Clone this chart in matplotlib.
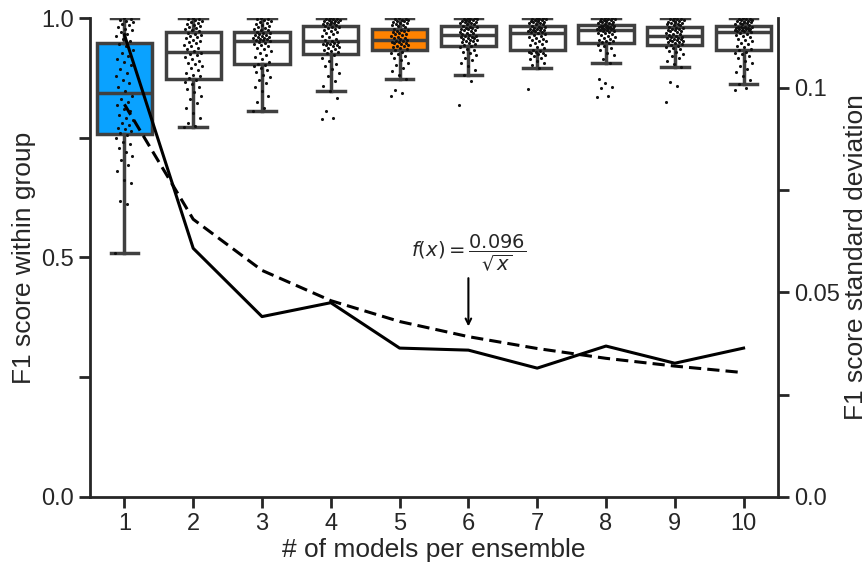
import numpy as np
import matplotlib
matplotlib.use("Agg")
import matplotlib.pyplot as plt
from matplotlib.ticker import FixedLocator

plt.rcParams['font.family'] = ['Liberation Sans', 'DejaVu Sans']
plt.rcParams['mathtext.fontset'] = 'dejavusans'

# ensemble sizes
n_models = [1, 2, 3, 4, 5, 6, 7, 8, 9, 10]

# F1 scores within each group
f1_n1 = [0.509, 0.612, 0.618, 0.655, 0.662, 0.681, 0.694, 0.703, 0.712, 0.721, 0.729, 0.736, 0.742, 0.749, 0.755,
         0.759, 0.764, 0.768, 0.771, 0.776, 0.781, 0.787, 0.792, 0.798, 0.805, 0.811, 0.818, 0.824, 0.831, 0.838,
         0.848, 0.856, 0.864, 0.871, 0.879, 0.886, 0.893, 0.901, 0.908, 0.914, 0.921, 0.927, 0.934, 0.941, 0.946,
         0.953, 0.957, 0.962, 0.966, 0.971, 0.975, 0.978, 0.982, 0.985, 0.988, 0.991, 0.994, 0.996, 0.998, 1.0]
f1_n2 = [0.772, 0.775, 0.781, 0.792, 0.801, 0.812, 0.823, 0.831, 0.838, 0.845, 0.851, 0.857, 0.862, 0.866, 0.871,
         0.874, 0.878, 0.882, 0.886, 0.891, 0.895, 0.899, 0.903, 0.907, 0.911, 0.915, 0.919, 0.922, 0.925, 0.928,
         0.932, 0.935, 0.938, 0.941, 0.944, 0.947, 0.950, 0.953, 0.955, 0.958, 0.960, 0.962, 0.965, 0.967, 0.969,
         0.973, 0.976, 0.978, 0.980, 0.982, 0.984, 0.986, 0.988, 0.990, 0.992, 0.994, 0.996, 0.998, 0.999, 1.0]
f1_n3 = [0.806, 0.812, 0.825, 0.838, 0.847, 0.856, 0.864, 0.870, 0.876, 0.882, 0.887, 0.891, 0.895, 0.899, 0.902,
         0.904, 0.909, 0.914, 0.919, 0.923, 0.927, 0.931, 0.935, 0.938, 0.941, 0.944, 0.946, 0.948, 0.950, 0.952,
         0.954, 0.955, 0.956, 0.957, 0.958, 0.959, 0.960, 0.961, 0.963, 0.964, 0.965, 0.966, 0.968, 0.969, 0.970,
         0.974, 0.976, 0.978, 0.980, 0.982, 0.984, 0.986, 0.988, 0.990, 0.992, 0.994, 0.996, 0.998, 0.999, 1.0]
f1_n4 = [0.790, 0.792, 0.806, 0.833, 0.848, 0.858, 0.869, 0.878, 0.886, 0.893, 0.899, 0.905, 0.911, 0.917, 0.922,
         0.926, 0.929, 0.932, 0.934, 0.936, 0.938, 0.940, 0.942, 0.943, 0.944, 0.945, 0.946, 0.947, 0.948, 0.950,
         0.952, 0.954, 0.957, 0.960, 0.963, 0.966, 0.969, 0.971, 0.973, 0.975, 0.977, 0.979, 0.981, 0.982, 0.983,
         0.986, 0.987, 0.988, 0.989, 0.990, 0.991, 0.992, 0.993, 0.994, 0.995, 0.996, 0.997, 0.998, 0.999, 1.0]
f1_n5 = [0.837, 0.844, 0.850, 0.873, 0.881, 0.889, 0.896, 0.902, 0.907, 0.912, 0.916, 0.920, 0.924, 0.927, 0.930,
         0.933, 0.935, 0.937, 0.939, 0.941, 0.942, 0.944, 0.945, 0.947, 0.948, 0.949, 0.950, 0.952, 0.953, 0.954,
         0.956, 0.958, 0.959, 0.961, 0.963, 0.964, 0.966, 0.967, 0.969, 0.970, 0.972, 0.973, 0.975, 0.976, 0.977,
         0.981, 0.983, 0.985, 0.986, 0.988, 0.989, 0.990, 0.991, 0.993, 0.994, 0.995, 0.996, 0.998, 0.999, 1.0]
f1_n6 = [0.818, 0.868, 0.881, 0.891, 0.899, 0.906, 0.912, 0.917, 0.922, 0.926, 0.930, 0.933, 0.936, 0.939, 0.941,
         0.943, 0.945, 0.947, 0.949, 0.951, 0.952, 0.954, 0.955, 0.957, 0.958, 0.959, 0.960, 0.961, 0.962, 0.963,
         0.965, 0.966, 0.968, 0.969, 0.971, 0.972, 0.974, 0.975, 0.977, 0.978, 0.979, 0.980, 0.981, 0.982, 0.983,
         0.987, 0.988, 0.989, 0.990, 0.991, 0.992, 0.993, 0.994, 0.995, 0.996, 0.997, 0.998, 0.999, 1.0, 1.0]
f1_n7 = [0.852, 0.895, 0.901, 0.906, 0.910, 0.914, 0.917, 0.920, 0.922, 0.924, 0.926, 0.928, 0.929, 0.930, 0.932,
         0.934, 0.937, 0.940, 0.943, 0.946, 0.948, 0.951, 0.953, 0.955, 0.957, 0.959, 0.961, 0.963, 0.965, 0.967,
         0.969, 0.970, 0.971, 0.972, 0.973, 0.974, 0.975, 0.976, 0.977, 0.978, 0.979, 0.980, 0.981, 0.982, 0.983,
         0.987, 0.988, 0.989, 0.990, 0.991, 0.992, 0.993, 0.994, 0.995, 0.996, 0.997, 0.998, 0.999, 1.0, 1.0]
f1_n8 = [0.836, 0.838, 0.854, 0.856, 0.865, 0.873, 0.907, 0.915, 0.922, 0.928, 0.933, 0.937, 0.941, 0.944, 0.947,
         0.949, 0.951, 0.953, 0.955, 0.957, 0.959, 0.961, 0.963, 0.965, 0.966, 0.968, 0.969, 0.971, 0.972, 0.973,
         0.975, 0.976, 0.977, 0.977, 0.978, 0.979, 0.979, 0.980, 0.981, 0.981, 0.982, 0.983, 0.983, 0.984, 0.984,
         0.987, 0.988, 0.989, 0.990, 0.991, 0.992, 0.993, 0.994, 0.995, 0.996, 0.997, 0.998, 0.999, 1.0, 1.0]
f1_n9 = [0.824, 0.858, 0.867, 0.898, 0.905, 0.911, 0.916, 0.921, 0.925, 0.929, 0.932, 0.935, 0.938, 0.940, 0.942,
         0.944, 0.946, 0.947, 0.949, 0.950, 0.952, 0.953, 0.954, 0.955, 0.956, 0.957, 0.958, 0.959, 0.960, 0.961,
         0.963, 0.964, 0.966, 0.967, 0.969, 0.970, 0.972, 0.973, 0.975, 0.976, 0.977, 0.978, 0.979, 0.980, 0.981,
         0.985, 0.986, 0.987, 0.988, 0.989, 0.990, 0.991, 0.992, 0.993, 0.995, 0.996, 0.997, 0.998, 0.999, 1.0]
f1_n10 = [0.850, 0.853, 0.862, 0.870, 0.879, 0.887, 0.894, 0.900, 0.906, 0.911, 0.916, 0.920, 0.924, 0.927, 0.930,
          0.933, 0.936, 0.939, 0.942, 0.945, 0.948, 0.951, 0.954, 0.957, 0.960, 0.962, 0.964, 0.966, 0.968, 0.970,
          0.972, 0.973, 0.974, 0.975, 0.976, 0.977, 0.977, 0.978, 0.979, 0.979, 0.980, 0.981, 0.981, 0.982, 0.982,
          0.986, 0.987, 0.988, 0.989, 0.990, 0.991, 0.992, 0.993, 0.994, 0.995, 0.996, 0.997, 0.998, 0.999, 1.0]
f1_groups = [f1_n1, f1_n2, f1_n3, f1_n4, f1_n5, f1_n6, f1_n7, f1_n8, f1_n9, f1_n10]

# standard deviation of F1 per ensemble size, and the fitted 0.096/sqrt(x) curve
f1_std = [0.113, 0.0608, 0.0441, 0.0475, 0.0364, 0.0359, 0.0315, 0.0369, 0.0327, 0.0364]
f1_fit = [0.096, 0.0679, 0.0554, 0.048, 0.0429, 0.0392, 0.0363, 0.0339, 0.032, 0.0304]

box_fill = ['#0aa2ff', 'white', 'white', 'white', '#ff8200', 'white', 'white', 'white', 'white', 'white']

EDGE = '#404040'
DARK = '#262626'

fig = plt.figure(figsize=(8.68, 5.65), dpi=100)
ax = fig.add_axes([0.1037, 0.1204, 0.7926, 0.8477])
pos = np.arange(len(n_models))

bp = ax.boxplot(f1_groups, positions=pos, widths=0.8, patch_artist=True,
                showfliers=False, whis=1.5,
                boxprops=dict(edgecolor=EDGE, linewidth=2.5),
                medianprops=dict(color=EDGE, linewidth=2.5),
                whiskerprops=dict(color=EDGE, linewidth=2.5),
                capprops=dict(color=EDGE, linewidth=2.5))
for patch, c in zip(bp['boxes'], box_fill):
    patch.set_facecolor(c)

# strip points with a fixed horizontal spread
for i, vals in enumerate(f1_groups):
    k = np.arange(len(vals))
    jit = ((k * 0.618034) % 1 - 0.5) * 0.26
    ax.scatter(i + jit, vals, s=5, color='#111111', linewidths=0, zorder=4)

ax.set_xlim(-0.5, 9.5)
ax.set_ylim(0, 1.0)
ax.set_xticks(pos)
ax.set_xticklabels([str(n) for n in n_models])
ax.yaxis.set_major_locator(FixedLocator([0, 0.5, 1.0]))
ax.yaxis.set_minor_locator(FixedLocator([0.25, 0.75]))
ax.set_yticklabels(['0.0', '0.5', '1.0'])
ax.set_xlabel('# of models per ensemble', fontsize=19, color=DARK, labelpad=2)
ax.set_ylabel('F1 score within group', fontsize=19, color=DARK, labelpad=4)

ax2 = ax.twinx()
ax2.plot(pos, f1_std, color='black', lw=2.2)
ax2.plot(pos, f1_fit, color='black', lw=2.2, ls='--', dashes=(4, 2))
ax2.set_ylim(0, 0.1171)
ax2.yaxis.set_major_locator(FixedLocator([0, 0.05, 0.1]))
ax2.yaxis.set_minor_locator(FixedLocator([0.025, 0.075]))
ax2.set_yticklabels(['0.0', '0.05', '0.1'])
ax2.set_ylabel('F1 score standard deviation', fontsize=19, color=DARK, labelpad=3)

ax2.text(5, 0.0548, r'$f(x) = \dfrac{0.096}{\sqrt{x}}$', ha='center', va='bottom',
         fontsize=14, color=DARK)
ax2.annotate('', xy=(5, 0.0417), xytext=(5, 0.0535),
             arrowprops=dict(arrowstyle='->', color='black', lw=1.5, shrinkA=0, shrinkB=0))

for a in (ax, ax2):
    a.spines['top'].set_visible(False)
    for s in a.spines.values():
        s.set_linewidth(2)
        s.set_color(DARK)
    a.tick_params(which='both', direction='out', length=8, width=2, color=DARK,
                  labelsize=17, labelcolor=DARK)
ax.spines['right'].set_visible(False)
ax2.spines['left'].set_visible(False)
ax2.spines['bottom'].set_visible(False)

fig.savefig('out.png', dpi=100)
